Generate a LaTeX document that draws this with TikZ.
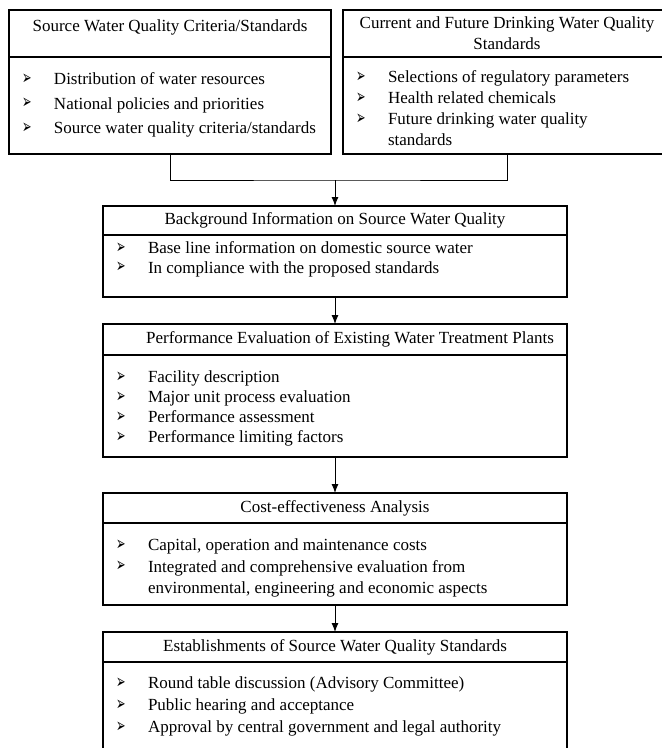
\documentclass[tikz,border=0pt]{standalone}
\usepackage{fontspec}
\setmainfont{Liberation Serif}
\newfontfamily\arrowfont{DejaVu Sans}
\usetikzlibrary{positioning,arrows.meta}
\newcommand{\itm}{\makebox[32pt][l]{\raisebox{0.5pt}{\resizebox{9.5pt}{10.5pt}{\arrowfont\char"27A2}}}}

\begin{document}
\begin{tikzpicture}[x=1pt,y=1pt,font=\fontsize{17}{21}\selectfont]
   \tikzstyle{arrow} = [line width=1pt,-{Latex[length=9pt,width=7pt]}]
   \tikzset{head/.style = {rectangle, draw, line width=1.2pt, outer sep=0pt, align=center, inner sep=2pt}, }
   \tikzset{items/.style = {rectangle, draw, line width=1.2pt, outer sep=0pt, align=flush left, inner xsep=13pt, inner ysep=0pt}, }
   \tikzset{linesep/.style = {font=\fontsize{17}{#1}\selectfont} }
   \useasboundingbox (0,0) rectangle (662,-748);

   % two sources of standards
   \node[head, anchor=north west, minimum width=322pt, minimum height=47pt, text height=17pt, text depth=22pt] (SWQ) at (9,-10) {Source Water Quality Criteria/Standards};
   \node[items, below=0pt of SWQ, text width=296pt, text height=27.5pt, text depth=69.5pt, linesep=24.5] (SWQl)
      {\itm Distribution of water resources\\ \itm National policies and priorities\\ \itm \mbox{Source water quality criteria/standards}};
   \node[head, anchor=north west, minimum width=328pt, minimum height=47pt] (DWQ) at (343,-10) {Current and Future Drinking Water Quality\\ Standards};
   \node[items, below=0pt of DWQ, text width=302pt, text height=25.5pt, text depth=71.5pt] (DWQl)
      {\itm Selections of regulatory parameters\\ \itm Health related chemicals\\ \itm Future drinking water quality\\ \hspace*{32pt}standards};

   % main chain
   \node[head, anchor=north west, minimum width=464pt, minimum height=29pt] (BIS) at (103,-206) {Background Information on Source Water Quality};
   \node[items, below=0pt of BIS, text width=438pt, text height=18.5pt, text depth=43.5pt, linesep=19.5] (BISl)
      {\itm Base line information on domestic source water\\ \itm In compliance with the proposed standards};
   \node[head, below=27pt of BISl, minimum width=464pt, minimum height=31pt] (PEV) {\hspace*{30pt}Performance Evaluation of Existing Water Treatment Plants};
   \node[items, below=0pt of PEV, text width=438pt, text height=27.5pt, text depth=74.5pt, linesep=20] (PEVl)
      {\itm Facility description\\ \itm Major unit process evaluation\\ \itm Performance assessment\\ \itm Performance limiting factors};
   \node[head, below=36pt of PEVl, minimum width=464pt, minimum height=30pt] (CEA) {Cost-effectiveness Analysis};
   \node[items, below=0pt of CEA, text width=438pt, text height=27.5pt, text depth=54.5pt, linesep=21.5] (CEAl)
      {\itm Capital, operation and maintenance costs\\ \itm Integrated and comprehensive evaluation from\\ \hspace*{32pt}environmental, engineering and economic aspects};
   \node[head, below=27pt of CEAl, minimum width=464pt, minimum height=30pt] (EST) {Establishments of Source Water Quality Standards};
   \node[items, below=0pt of EST, text width=438pt, text height=26.5pt, text depth=100pt, linesep=22] (ESTl)
      {\itm Round table discussion (Advisory Committee)\\ \itm Public hearing and acceptance\\ \itm Approval by central government and legal authority};

   \coordinate[above=26pt of BIS] (join);
   \draw[line width=1pt] (SWQl.south) |- (join) -| (DWQl.south);
   \draw[arrow] (join) -- (BIS);
   \draw[arrow] (BISl) -- (PEV);
   \draw[arrow] (PEVl) -- (CEA);
   \draw[arrow] (CEAl) -- (EST);

\end{tikzpicture}
\end{document}
